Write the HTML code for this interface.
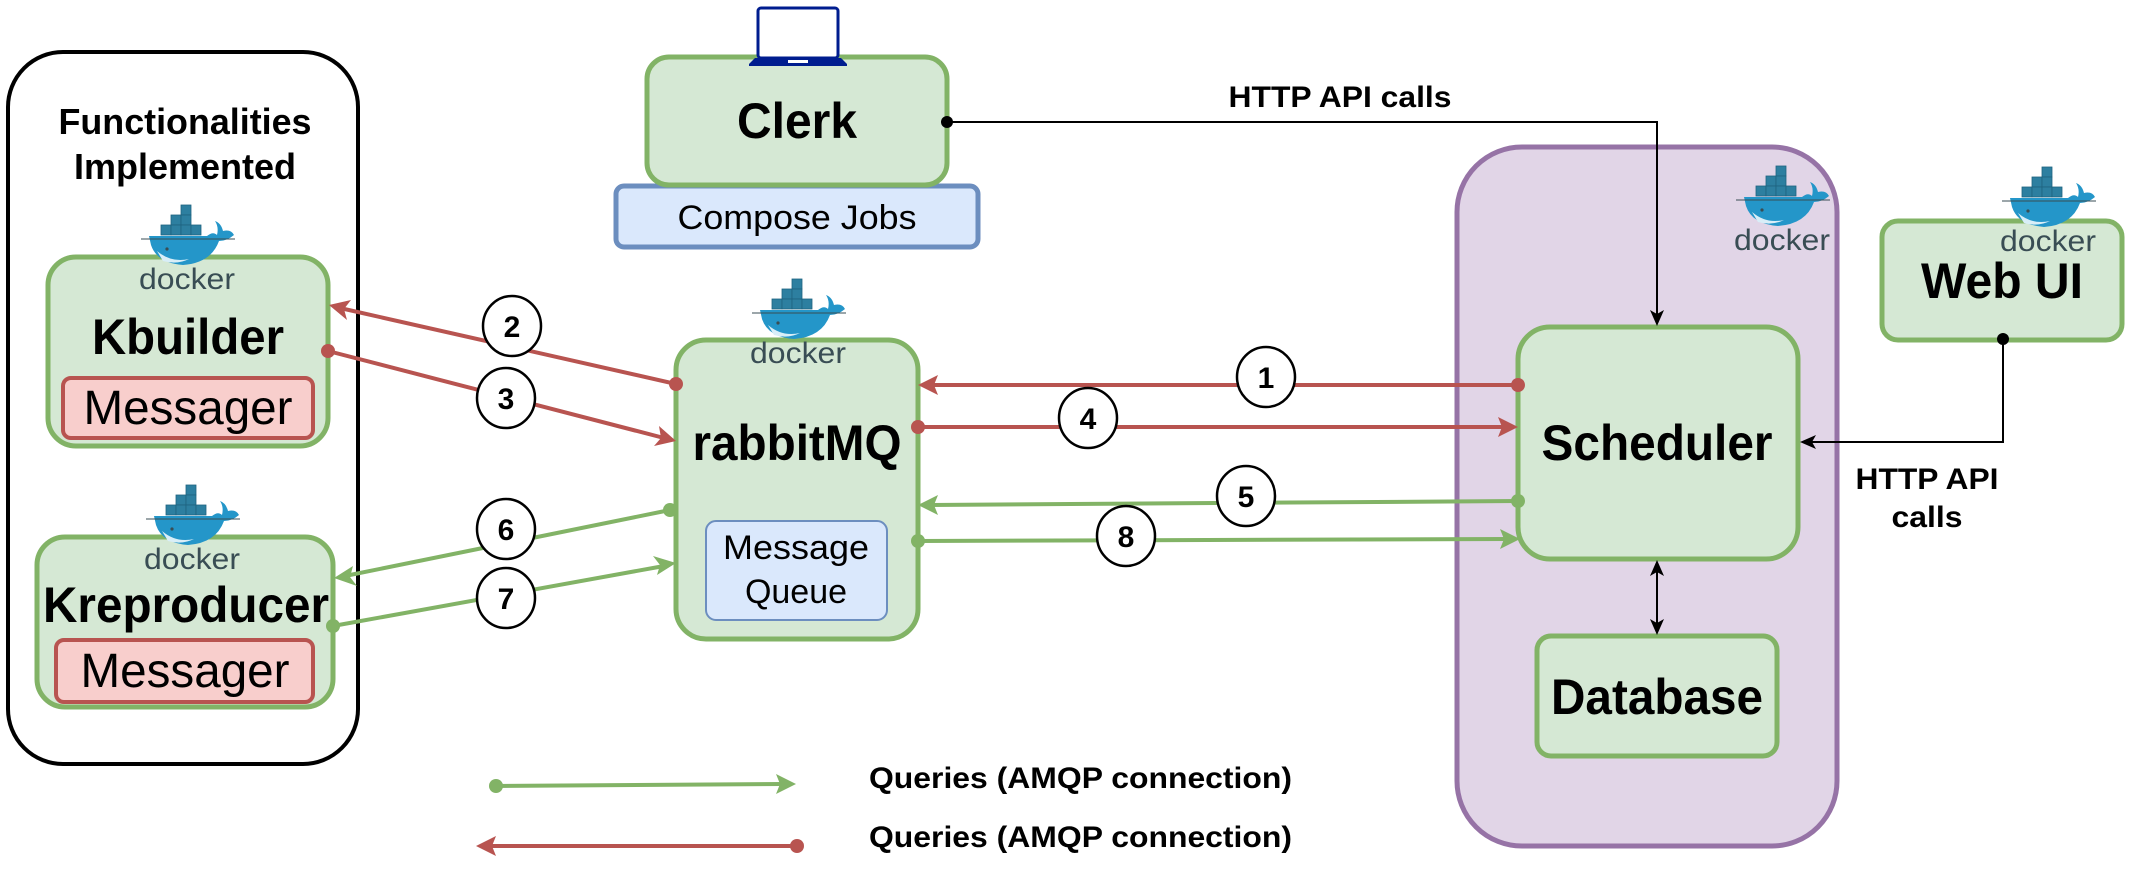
<!DOCTYPE html>
<html><head><meta charset="utf-8"><style>
html,body{margin:0;padding:0;background:#fff;}
svg{display:block;}
text{font-family:"Liberation Sans Narrow","Liberation Sans",sans-serif;}
</style></head><body>
<svg width="2132" height="872" viewBox="0 0 2132 872" xmlns="http://www.w3.org/2000/svg">
<defs>
<g id="dk">
  <g fill="#2d7fa0" stroke="#1f6380" stroke-width="0.8">
    <rect x="44" y="0" width="10" height="10"/>
    <rect x="34" y="10" width="10" height="10"/><rect x="44" y="10" width="10" height="10"/>
    <rect x="24" y="20" width="10" height="10"/><rect x="34" y="20" width="10" height="10"/><rect x="44" y="20" width="10" height="10"/><rect x="54" y="20" width="10" height="10"/>
  </g>
  <path d="M12 31 L70 31 Q76 26 80 30 Q82 22 78 16 Q84 18 86 26 Q94 24 97 30 Q90 36 82 36 Q74 58 46 60 Q20 58 14 40 Z" fill="#2496c9"/>
  <path d="M20 46 Q34 58 52 54 Q40 60 26 56 Z" fill="#d8eef8"/>
  <line x1="4" y1="34" x2="98" y2="34" stroke="#394d54" stroke-width="1"/>
  <circle cx="30" cy="44" r="1.6" fill="#394d54"/>
  <text x="50" y="84" text-anchor="middle" font-size="30" fill="#394d54" textLength="96" lengthAdjust="spacingAndGlyphs" style="font-family:'Liberation Sans',sans-serif">docker</text>
</g>
</defs>

<rect x="8" y="52" width="350" height="712" rx="55" fill="#fff" stroke="#000" stroke-width="4"/>
<text x="185" y="134" text-anchor="middle" font-size="36" font-weight="bold" textLength="253" lengthAdjust="spacingAndGlyphs">Functionalities</text>
<text x="185" y="179" text-anchor="middle" font-size="36" font-weight="bold" textLength="222" lengthAdjust="spacingAndGlyphs">Implemented</text>

<rect x="48" y="257" width="280" height="189" rx="28" fill="#d5e8d4" stroke="#82b366" stroke-width="5"/>
<use href="#dk" transform="translate(137,205)"/>
<text x="188" y="354" text-anchor="middle" font-size="50" font-weight="bold" textLength="192" lengthAdjust="spacingAndGlyphs">Kbuilder</text>
<rect x="63" y="378" width="250" height="60" rx="8" fill="#f8cecc" stroke="#b85450" stroke-width="4"/>
<text x="188" y="424" text-anchor="middle" font-size="48" textLength="209" lengthAdjust="spacingAndGlyphs">Messager</text>

<rect x="37" y="537" width="296" height="170" rx="28" fill="#d5e8d4" stroke="#82b366" stroke-width="5"/>
<use href="#dk" transform="translate(142,485)"/>
<text x="186" y="622" text-anchor="middle" font-size="50" font-weight="bold" textLength="286" lengthAdjust="spacingAndGlyphs">Kreproducer</text>
<rect x="56" y="640" width="257" height="62" rx="8" fill="#f8cecc" stroke="#b85450" stroke-width="4"/>
<text x="185" y="687" text-anchor="middle" font-size="48" textLength="209" lengthAdjust="spacingAndGlyphs">Messager</text>

<rect x="616" y="186" width="362" height="61" rx="8" fill="#dae8fc" stroke="#6c8ebf" stroke-width="5"/>
<text x="797" y="229" text-anchor="middle" font-size="34" textLength="239" lengthAdjust="spacingAndGlyphs">Compose Jobs</text>
<rect x="647" y="57" width="300" height="128" rx="22" fill="#d5e8d4" stroke="#82b366" stroke-width="5"/>
<text x="797" y="138" text-anchor="middle" font-size="50" font-weight="bold" textLength="120" lengthAdjust="spacingAndGlyphs">Clerk</text>
<rect x="758" y="8" width="80" height="50" rx="3" fill="#fff" stroke="#001d8f" stroke-width="3"/>
<path d="M755 58 L841 58 L847 64 L847 66 L749 66 L749 64 Z" fill="#001d8f"/>
<rect x="788" y="60" width="20" height="3" fill="#fff"/>

<rect x="676" y="340" width="242" height="299" rx="30" fill="#d5e8d4" stroke="#82b366" stroke-width="5"/>
<use href="#dk" transform="translate(748,279)"/>
<text x="797" y="460" text-anchor="middle" font-size="50" font-weight="bold" textLength="209" lengthAdjust="spacingAndGlyphs">rabbitMQ</text>
<rect x="706" y="521" width="181" height="99" rx="10" fill="#dae8fc" stroke="#6c8ebf" stroke-width="2"/>
<text x="796" y="559" text-anchor="middle" font-size="34" textLength="146" lengthAdjust="spacingAndGlyphs">Message</text>
<text x="796" y="603" text-anchor="middle" font-size="34">Queue</text>

<rect x="1457" y="147" width="380" height="699" rx="65" fill="#e1d5e7" stroke="#9673a6" stroke-width="5"/>
<use href="#dk" transform="translate(1732,166)"/>
<rect x="1518" y="327" width="280" height="232" rx="32" fill="#d5e8d4" stroke="#82b366" stroke-width="5"/>
<text x="1657" y="460" text-anchor="middle" font-size="50" font-weight="bold" textLength="231" lengthAdjust="spacingAndGlyphs">Scheduler</text>
<rect x="1537" y="636" width="240" height="120" rx="14" fill="#d5e8d4" stroke="#82b366" stroke-width="5"/>
<text x="1657" y="714" text-anchor="middle" font-size="50" font-weight="bold" textLength="212" lengthAdjust="spacingAndGlyphs">Database</text>

<rect x="1882" y="221" width="240" height="119" rx="16" fill="#d5e8d4" stroke="#82b366" stroke-width="5"/>
<use href="#dk" transform="translate(1998,167)"/>
<text x="2002" y="298" text-anchor="middle" font-size="50" font-weight="bold" textLength="162" lengthAdjust="spacingAndGlyphs">Web UI</text>

<g stroke="#000" stroke-width="2" fill="none">
  <polyline points="947,122 1657,122 1657,318"/>
  <polyline points="2003,339 2003,442 1808,442"/>
  <line x1="1657" y1="570" x2="1657" y2="624"/>
</g>
<circle cx="947" cy="122" r="6" fill="#000"/>
<circle cx="2003" cy="339" r="6" fill="#000"/>
<path d="M1657 326 L1650 310 L1657 314 L1664 310 Z" fill="#000"/>
<path d="M1800 442 L1816 435 L1812 442 L1816 449 Z" fill="#000"/>
<path d="M1657 560 L1650 576 L1657 572 L1664 576 Z" fill="#000"/>
<path d="M1657 635 L1650 619 L1657 623 L1664 619 Z" fill="#000"/>
<text x="1340" y="107" text-anchor="middle" font-size="30" font-weight="bold" textLength="223" lengthAdjust="spacingAndGlyphs">HTTP API calls</text>
<text x="1927" y="489" text-anchor="middle" font-size="30" font-weight="bold" textLength="143" lengthAdjust="spacingAndGlyphs">HTTP API</text>
<text x="1927" y="527" text-anchor="middle" font-size="30" font-weight="bold" textLength="71" lengthAdjust="spacingAndGlyphs">calls</text>

<g stroke-width="4" fill="none">
  <line x1="1518" y1="385" x2="930" y2="385" stroke="#b85450"/>
  <line x1="918" y1="427" x2="1505" y2="427" stroke="#b85450"/>
  <line x1="1518" y1="501" x2="930" y2="505" stroke="#82b366"/>
  <line x1="918" y1="541" x2="1508" y2="539" stroke="#82b366"/>
  <line x1="676" y1="384" x2="340" y2="308" stroke="#b85450"/>
  <line x1="328" y1="351" x2="664" y2="438" stroke="#b85450"/>
  <line x1="670" y1="510" x2="345" y2="576" stroke="#82b366"/>
  <line x1="333" y1="626" x2="664" y2="566" stroke="#82b366"/>
  <line x1="496" y1="786" x2="784" y2="784" stroke="#82b366"/>
  <line x1="797" y1="846" x2="488" y2="846" stroke="#b85450"/>
</g>
<g fill="#b85450">
  <circle cx="1518" cy="385" r="7"/><circle cx="918" cy="427" r="7"/>
  <circle cx="676" cy="384" r="7"/><circle cx="328" cy="351" r="7"/><circle cx="797" cy="846" r="7"/>
  <path d="M918 385 L938 375 L934 385 L938 395 Z"/>
  <path d="M1518 427 L1498 417 L1502 427 L1498 437 Z"/>
  <path d="M329 305 L351 300 L344 309 L347 320 Z"/>
  <path d="M676 441 L654 446 L661 438 L659 426 Z"/>
  <path d="M476 846 L496 836 L492 846 L496 856 Z"/>
</g>
<g fill="#82b366">
  <circle cx="1518" cy="501" r="7"/><circle cx="918" cy="541" r="7"/>
  <circle cx="670" cy="510" r="7"/><circle cx="333" cy="626" r="7"/><circle cx="496" cy="786" r="7"/>
  <path d="M918 505 L938 495 L934 505 L938 515 Z"/>
  <path d="M1520 539 L1500 529 L1504 539 L1500 549 Z"/>
  <path d="M334 578 L353 566 L350 577 L357 586 Z"/>
  <path d="M676 563 L657 575 L660 565 L653 556 Z"/>
  <path d="M796 784 L776 774 L780 784 L776 794 Z"/>
</g>

<g fill="#fff" stroke="#000" stroke-width="2.5">
  <ellipse cx="1266" cy="377" rx="29" ry="30"/>
  <ellipse cx="1088" cy="418" rx="29" ry="30"/>
  <ellipse cx="1246" cy="496" rx="29" ry="30"/>
  <ellipse cx="1126" cy="536" rx="29" ry="30"/>
  <ellipse cx="512" cy="326" rx="29" ry="30"/>
  <ellipse cx="506" cy="398" rx="29" ry="30"/>
  <ellipse cx="506" cy="529" rx="29" ry="30"/>
  <ellipse cx="506" cy="598" rx="29" ry="30"/>
</g>
<g font-size="30" font-weight="bold" text-anchor="middle">
  <text x="1266" y="388">1</text>
  <text x="1088" y="429">4</text>
  <text x="1246" y="507">5</text>
  <text x="1126" y="547">8</text>
  <text x="512" y="337">2</text>
  <text x="506" y="409">3</text>
  <text x="506" y="540">6</text>
  <text x="506" y="609">7</text>
</g>

<text x="869" y="788" font-size="30" font-weight="bold" textLength="423" lengthAdjust="spacingAndGlyphs">Queries (AMQP connection)</text>
<text x="869" y="847" font-size="30" font-weight="bold" textLength="423" lengthAdjust="spacingAndGlyphs">Queries (AMQP connection)</text>
</svg>
</body></html>
